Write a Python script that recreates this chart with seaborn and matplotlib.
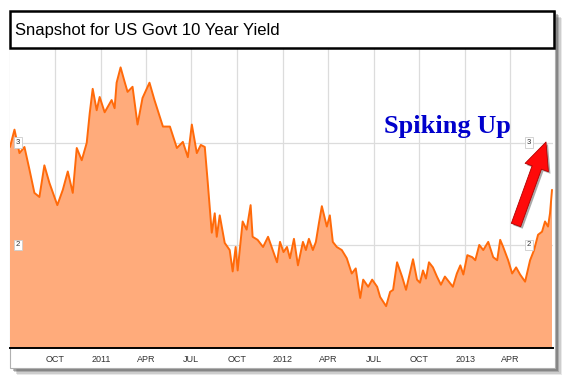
import pandas as pd
import numpy as np
import matplotlib
matplotlib.use("Agg")
import matplotlib.pyplot as plt
import matplotlib.dates as mdates
from matplotlib.patches import Rectangle
import seaborn as sns

# --- data: US Govt 10 year yield ---
dates_2010 = ["2010-07-02", "2010-07-11", "2010-07-21", "2010-07-31", "2010-08-10", "2010-08-20",
              "2010-08-30", "2010-09-09", "2010-09-19", "2010-10-05", "2010-10-16", "2010-10-26",
              "2010-11-05", "2010-11-13", "2010-11-23", "2010-12-03", "2010-12-09", "2010-12-15",
              "2010-12-23", "2010-12-29"]
yield_2010 = [2.96, 3.13, 2.90, 2.96, 2.74, 2.51, 2.47, 2.78, 2.61, 2.39, 2.54, 2.72,
              2.51, 2.95, 2.83, 3.00, 3.29, 3.53, 3.32, 3.45]

dates_2011 = ["2011-01-08", "2011-01-22", "2011-01-28", "2011-02-01", "2011-02-09", "2011-02-17",
              "2011-02-23", "2011-03-05", "2011-03-15", "2011-03-25", "2011-04-08", "2011-04-18",
              "2011-05-05", "2011-05-19", "2011-06-02", "2011-06-14", "2011-06-24", "2011-07-02",
              "2011-07-12", "2011-07-20", "2011-07-28", "2011-08-03", "2011-08-11", "2011-08-17",
              "2011-08-21", "2011-08-27", "2011-09-06", "2011-09-16", "2011-09-22", "2011-09-28",
              "2011-10-02", "2011-10-12", "2011-10-20", "2011-10-28", "2011-11-01", "2011-11-11",
              "2011-11-22", "2011-12-02", "2011-12-20", "2011-12-26"]
yield_2011 = [3.30, 3.42, 3.34, 3.59, 3.74, 3.60, 3.50, 3.55, 3.18, 3.44, 3.59, 3.42,
              3.16, 3.16, 2.95, 3.01, 2.86, 3.18, 2.90, 2.98, 2.96, 2.61, 2.12, 2.31,
              2.08, 2.29, 2.02, 1.95, 1.74, 1.98, 1.75, 2.23, 2.15, 2.39, 2.08, 2.05,
              1.98, 2.08, 1.83, 2.03]

dates_2012 = ["2012-01-02", "2012-01-09", "2012-01-15", "2012-01-23", "2012-01-31", "2012-02-10",
              "2012-02-16", "2012-02-22", "2012-03-01", "2012-03-07", "2012-03-13", "2012-03-19",
              "2012-03-29", "2012-04-04", "2012-04-10", "2012-04-18", "2012-04-28", "2012-05-08",
              "2012-05-18", "2012-05-26", "2012-06-04", "2012-06-10", "2012-06-20", "2012-06-28",
              "2012-07-08", "2012-07-14", "2012-07-26", "2012-08-03", "2012-08-09", "2012-08-17",
              "2012-08-27", "2012-09-04", "2012-09-10", "2012-09-18", "2012-09-26", "2012-10-02",
              "2012-10-08", "2012-10-14", "2012-10-20", "2012-10-28", "2012-11-05", "2012-11-13",
              "2012-11-21", "2012-11-29", "2012-12-07", "2012-12-15", "2012-12-22", "2012-12-28"]
yield_2012 = [1.93, 1.98, 1.87, 2.06, 1.80, 2.03, 1.95, 2.06, 1.95, 2.03, 2.21, 2.38,
              2.18, 2.29, 2.03, 1.98, 1.95, 1.87, 1.72, 1.77, 1.48, 1.66, 1.59, 1.66,
              1.59, 1.49, 1.40, 1.54, 1.56, 1.83, 1.69, 1.56, 1.69, 1.86, 1.66, 1.63,
              1.75, 1.67, 1.83, 1.78, 1.69, 1.61, 1.69, 1.64, 1.59, 1.72, 1.80, 1.71]

dates_2013 = ["2013-01-05", "2013-01-15", "2013-01-21", "2013-01-29", "2013-02-06", "2013-02-16",
              "2013-02-26", "2013-03-06", "2013-03-12", "2013-03-18", "2013-03-28", "2013-04-05",
              "2013-04-13", "2013-04-21", "2013-05-01", "2013-05-11", "2013-05-19", "2013-05-27",
              "2013-06-04", "2013-06-10", "2013-06-16", "2013-06-20", "2013-06-24"]
yield_2013 = [1.90, 1.88, 1.85, 2.00, 1.95, 2.03, 1.88, 1.85, 2.05, 1.98, 1.85, 1.72,
              1.78, 1.71, 1.64, 1.85, 1.95, 2.10, 2.13, 2.23, 2.18, 2.31, 2.54]

y_ticks = [2, 3]
title = "Snapshot for US Govt 10 Year Yield"
note = "Spiking Up"

df = pd.DataFrame({
    "date": pd.to_datetime(dates_2010 + dates_2011 + dates_2012 + dates_2013),
    "yield": yield_2010 + yield_2011 + yield_2012 + yield_2013,
})

sns.set_style("white")
plt.rcParams["font.family"] = ["Liberation Sans", "DejaVu Sans"]

W, H = 566, 377
fig = plt.figure(figsize=(W / 100, H / 100), dpi=100)


def box(x0, y0, x1, y1):
    # image pixels (top-left origin) -> figure fraction rect
    return (x0 / W, 1 - y1 / H, (x1 - x0) / W, (y1 - y0) / H)


# drop shadow + outer frame
for i, a in enumerate([0.10, 0.15, 0.22, 0.30]):
    off = 7 - i * 1.5
    x, y, w, h = box(10 + off, 11 + off, 555 + off, 368 + off)
    fig.add_artist(Rectangle((x, y), w, h, transform=fig.transFigure,
                             facecolor="#303030", edgecolor="none", alpha=a, zorder=-3))
x, y, w, h = box(10, 11, 555, 368)
fig.add_artist(Rectangle((x, y), w, h, transform=fig.transFigure,
                         facecolor="white", edgecolor="#b0b0b0", lw=0.8, zorder=-2))

# plot area
ax = fig.add_axes(box(10, 48, 553, 348))
ax.set_zorder(1)
line_c = "#FF6A0A"
fill_c = "#FFAB7B"
ax.fill_between(df["date"], df["yield"], 0, color=fill_c, lw=0, zorder=2)
sns.lineplot(data=df, x="date", y="yield", ax=ax, color=line_c, lw=1.4, zorder=3)

ax.set_xlim(pd.Timestamp("2010-07-02"), pd.Timestamp("2013-06-26"))
ax.set_ylim(0.99, 3.93)
ax.set_xlabel("")
ax.set_ylabel("")

ax.xaxis.set_major_locator(mdates.MonthLocator(bymonth=[1, 4, 7, 10]))
ax.xaxis.set_major_formatter(plt.FuncFormatter(
    lambda v, p: (str(mdates.num2date(v).year) if mdates.num2date(v).month == 1
                  else mdates.num2date(v).strftime("%b").upper())))
ax.set_yticks(y_ticks)
ax.set_yticklabels([])
ax.tick_params(axis="x", length=0, pad=5, labelsize=6.5, labelcolor="#333333")
ax.tick_params(axis="y", length=0)
ax.grid(True, color="#dcdcdc", lw=0.9)
ax.set_axisbelow(True)

for s in ["top", "left", "right"]:
    ax.spines[s].set_visible(False)
ax.spines["bottom"].set_color("black")
ax.spines["bottom"].set_linewidth(1.4)

# boxed value labels on both sides
for v in y_ticks:
    for xa in [0.015, 0.955]:
        ax.text(xa, v, str(v), transform=ax.get_yaxis_transform(), fontsize=5.5,
                ha="center", va="center", color="#333333", zorder=5,
                bbox=dict(boxstyle="square,pad=0.25", fc="white", ec="#cccccc", lw=0.6))

# title box
x, y, w, h = box(10, 11, 554, 48)
fig.add_artist(Rectangle((x, y), w, h, transform=fig.transFigure,
                         facecolor="white", edgecolor="black", lw=1.8, zorder=4))
fig.text(15 / W, 1 - 30 / H, title, fontsize=12, ha="left", va="center",
         color="black", zorder=5)

# annotation
fig.text(447 / W, 1 - 133 / H, note, fontsize=19, ha="center", va="baseline",
         family=["Liberation Serif", "DejaVu Serif"], weight="bold", color="#0000CC", zorder=6)
arrow_style = "simple,head_length=1.15,head_width=1.05,tail_width=0.42"
ax.annotate("", xy=(548, H - 144), xytext=(518, H - 227), xycoords="figure pixels",
            textcoords="figure pixels", zorder=6,
            arrowprops=dict(arrowstyle=arrow_style, mutation_scale=17,
                            fc="#555555", ec="none", alpha=0.5, shrinkA=0, shrinkB=0))
ax.annotate("", xy=(546, H - 142), xytext=(516, H - 225), xycoords="figure pixels",
            textcoords="figure pixels", zorder=7,
            arrowprops=dict(arrowstyle=arrow_style, mutation_scale=17,
                            fc="#FF0A0A", ec="#B00000", lw=0.6, shrinkA=0, shrinkB=0))

fig.savefig("out.png", dpi=100)
